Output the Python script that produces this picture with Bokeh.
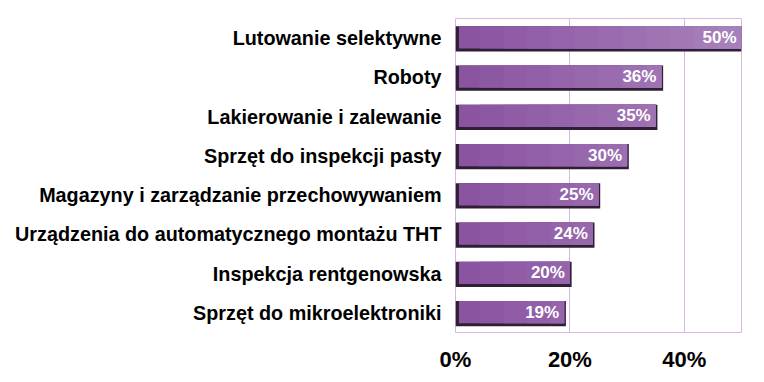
from bokeh.plotting import figure
from bokeh.models import ColumnDataSource, LabelSet, FixedTicker, CustomJSTickFormatter
from bokeh.transform import dodge
from bokeh.core.properties import value
from bokeh.embed import file_html
from bokeh.resources import INLINE

categories = ["Lutowanie selektywne", "Roboty", "Lakierowanie i zalewanie",
              "Sprzęt do inspekcji pasty", "Magazyny i zarządzanie przechowywaniem",
              "Urządzenia do automatycznego montażu THT", "Inspekcja rentgenowska",
              "Sprzęt do mikroelektroniki"]
values = [50, 36, 35, 30, 25, 24, 20, 19]
tick_values = [0, 20, 40]

labels = [f"{v}%" for v in values]
src = ColumnDataSource(dict(cat=categories, val=values, lab=labels,
                            shadow=[v + 0.3 for v in values]))

p = figure(y_range=list(reversed(categories)), x_range=(0, 50),
           width=756, height=374, output_backend="svg", toolbar_location=None,
           min_border_left=455, min_border_right=15, min_border_top=18, min_border_bottom=38)

p.outline_line_color = "#d8b8e0"
p.outline_line_width = 1
p.background_fill_color = "white"
p.border_fill_color = "white"

p.ygrid.grid_line_color = None
p.xgrid.grid_line_color = "#d8b8e0"
p.xgrid.ticker = FixedTicker(ticks=tick_values)

# shadow / depth
p.hbar(y=dodge("cat", -0.02, range=p.y_range), left=0, right="shadow", height=0.64,
       source=src, fill_color="#2f1f35", line_color=None)

# main bar with stepped gradient (lighter towards the right)
c0 = (0x8b, 0x54, 0xa1)
c1 = (0xa6, 0x80, 0xba)
nsteps = 12
for k in range(nsteps):
    b = 0.6 if k == 0 else 50 * k / nsteps
    t = k / (nsteps - 1)
    col = "#%02x%02x%02x" % tuple(round(a + (bb - a) * t) for a, bb in zip(c0, c1))
    idx = [i for i, v in enumerate(values) if v > b]
    s = ColumnDataSource(dict(cat=[categories[i] for i in idx],
                              val=[values[i] for i in idx]))
    p.hbar(y=dodge("cat", 0.02, range=p.y_range), left=b, right="val", height=0.57,
           source=s, fill_color=col, line_color=None)

lbl = LabelSet(x="val", y=dodge("cat", 0.02, range=p.y_range), text="lab", source=src,
               x_offset=-5, text_align="right", text_baseline="middle",
               text_color="white", text_font=value("Liberation Sans"),
               text_font_style="bold", text_font_size="17px")
p.add_layout(lbl)

p.xaxis.ticker = FixedTicker(ticks=tick_values)
p.xaxis.formatter = CustomJSTickFormatter(code="return tick + '%';")
p.xaxis.axis_line_color = None
p.xaxis.major_tick_line_color = None
p.xaxis.minor_tick_line_color = None
p.xaxis.major_label_text_font = "Liberation Sans"
p.xaxis.major_label_text_font_style = "bold"
p.xaxis.major_label_text_font_size = "22px"
p.xaxis.major_label_text_color = "black"
p.xaxis.major_label_standoff = 8

p.yaxis.axis_line_color = None
p.yaxis.major_tick_line_color = None
p.yaxis.minor_tick_line_color = None
p.yaxis.major_label_text_font = "Liberation Sans"
p.yaxis.major_label_text_font_style = "bold"
p.yaxis.major_label_text_font_size = "19.8px"
p.yaxis.major_label_text_color = "black"
p.yaxis.major_label_standoff = 8

open("out.html", "w").write(file_html(p, INLINE))
